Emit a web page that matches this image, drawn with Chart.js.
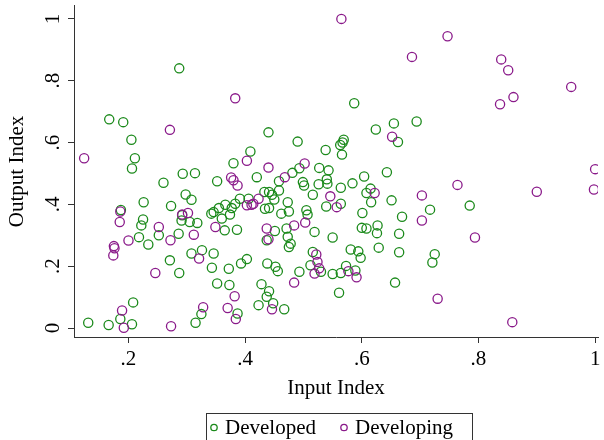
<!DOCTYPE html>
<html>
<head>
<meta charset="utf-8">
<script src="https://cdn.jsdelivr.net/npm/chart.js@4"></script>
<style>
    html, body { margin: 0; padding: 0; background: #fff; }
    #wrap { width: 604px; height: 440px; }
</style>
</head>
<body>
<div id="wrap"><canvas id="chart"></canvas></div>
<script>
// values
const seriesNames = ["Developed", "Developing"];

const developedX = [
    0.287, 0.167, 0.191, 0.205, 0.211, 0.206, 0.293, 0.314,
    0.440, 0.490, 0.409, 0.538, 0.380, 0.493, 0.481, 0.527, 0.543, 0.420,
    0.587, 0.655, 0.694, 0.624, 0.662, 0.569, 0.567, 0.563, 0.566, 0.604, 0.643,
    0.785, 0.717, 0.584, 0.564, 0.540, 0.541, 0.615, 0.608, 0.616, 0.651, 0.564,
    0.539, 0.601, 0.669, 0.600, 0.608, 0.627, 0.626, 0.664, 0.550, 0.629, 0.664,
    0.581, 0.594, 0.598, 0.725, 0.721, 0.573, 0.589, 0.550, 0.564, 0.657, 0.561,
    0.260, 0.298, 0.308, 0.226, 0.273, 0.187, 0.225, 0.222, 0.252, 0.292, 0.291,
    0.305, 0.318, 0.286, 0.218, 0.234, 0.326, 0.308, 0.271, 0.287, 0.208, 0.325,
    0.186, 0.131, 0.166, 0.206, 0.315,
    0.352, 0.458, 0.499, 0.501, 0.526, 0.433, 0.441, 0.446, 0.458, 0.450, 0.434,
    0.441, 0.473, 0.475, 0.505, 0.507, 0.516, 0.391, 0.406, 0.383, 0.377, 0.374,
    0.366, 0.355, 0.346, 0.342, 0.360, 0.365, 0.386, 0.451, 0.437, 0.462, 0.471,
    0.473, 0.478, 0.475, 0.519, 0.346, 0.343, 0.372, 0.393, 0.403, 0.438, 0.452,
    0.456, 0.493, 0.516, 0.512, 0.530, 0.352, 0.373, 0.428, 0.441, 0.437, 0.423,
    0.467, 0.448, 0.387
];
const developedY = [
    0.840, 0.675, 0.666, 0.609, 0.549, 0.516, 0.499, 0.501,
    0.633, 0.603, 0.571, 0.576, 0.533, 0.517, 0.502, 0.518, 0.510, 0.488,
    0.727, 0.662, 0.668, 0.642, 0.602, 0.609, 0.600, 0.592, 0.561, 0.490, 0.504,
    0.396, 0.383, 0.468, 0.454, 0.481, 0.467, 0.451, 0.437, 0.407, 0.413, 0.402,
    0.393, 0.372, 0.360, 0.324, 0.322, 0.332, 0.307, 0.305, 0.293, 0.260, 0.245,
    0.254, 0.248, 0.227, 0.239, 0.212, 0.201, 0.186, 0.175, 0.178, 0.147, 0.114,
    0.470, 0.432, 0.415, 0.407, 0.395, 0.382, 0.351, 0.332, 0.300, 0.365, 0.348,
    0.343, 0.340, 0.305, 0.294, 0.270, 0.252, 0.241, 0.219, 0.178, 0.083, 0.045,
    0.029, 0.017, 0.010, 0.012, 0.017,
    0.475, 0.475, 0.472, 0.461, 0.465, 0.440, 0.440, 0.431, 0.445, 0.416, 0.386,
    0.388, 0.407, 0.377, 0.381, 0.367, 0.431, 0.418, 0.418, 0.402, 0.388, 0.367,
    0.399, 0.388, 0.375, 0.370, 0.354, 0.316, 0.318, 0.314, 0.284, 0.370, 0.322,
    0.295, 0.273, 0.262, 0.311, 0.241, 0.195, 0.192, 0.209, 0.223, 0.209, 0.198,
    0.184, 0.182, 0.246, 0.203, 0.182, 0.144, 0.139, 0.142, 0.119, 0.101, 0.074,
    0.061, 0.080, 0.047
];

const developingX = [
    0.565, 0.383, 0.271, 0.124, 0.403, 0.440, 0.502, 0.376, 0.380, 0.387, 0.468,
    0.747, 0.686, 0.652, 0.839, 0.851, 0.959, 0.860, 0.837, 1.000, 0.764, 0.900,
    0.998, 0.794, 0.858, 0.703, 0.703, 0.546, 0.622, 0.557, 0.577, 0.591, 0.730,
    0.186, 0.185, 0.252, 0.292, 0.302, 0.312, 0.272, 0.200, 0.175, 0.176, 0.174,
    0.321, 0.246, 0.189, 0.328, 0.192, 0.273, 0.423, 0.414, 0.403, 0.411, 0.349,
    0.437, 0.440, 0.484, 0.503, 0.522, 0.524, 0.527, 0.519, 0.484, 0.446, 0.382,
    0.370, 0.384
];
const developingY = [
    1.000, 0.743, 0.641, 0.549, 0.541, 0.519, 0.532, 0.487, 0.478, 0.461, 0.488,
    0.944, 0.877, 0.619, 0.869, 0.834, 0.780, 0.747, 0.724, 0.514, 0.463, 0.441,
    0.448, 0.293, 0.019, 0.429, 0.348, 0.426, 0.437, 0.391, 0.184, 0.164, 0.095,
    0.377, 0.343, 0.327, 0.367, 0.372, 0.302, 0.284, 0.283, 0.265, 0.258, 0.235,
    0.225, 0.178, 0.057, 0.067, 0.001, 0.006, 0.418, 0.402, 0.397, 0.399, 0.327,
    0.322, 0.287, 0.332, 0.341, 0.238, 0.214, 0.193, 0.176, 0.147, 0.061, 0.103,
    0.065, 0.029
];

const xTicks = [0.2, 0.4, 0.6, 0.8, 1];
const xTickLabels = [".2", ".4", ".6", ".8", "1"];
const yTicks = [0, 0.2, 0.4, 0.6, 0.8, 1];
const yTickLabels = ["0", ".2", ".4", ".6", ".8", "1"];

const green = "#1b8a1b";
const purple = "#8a1a8a";
const axisColor = "#333";
const serif = "\"Liberation Serif\", \"Times New Roman\", serif";

const toPoints = (xs, ys) => xs.map((x, i) => ({ x, y: ys[i] }));

// y tick labels are rotated in the original, plus the boxed legend at the bottom
const extras = {
    id: "extras",
    afterDraw(chart) {
        const ctx = chart.ctx;
        const yScale = chart.scales.y;
        ctx.save();
        ctx.font = "21px " + serif;
        ctx.fillStyle = "#000";
        ctx.textAlign = "center";
        ctx.textBaseline = "middle";
        yTicks.forEach((v, i) => {
            ctx.save();
            ctx.translate(53, yScale.getPixelForValue(v));
            ctx.rotate(-Math.PI / 2);
            ctx.fillText(yTickLabels[i], 0, 0);
            ctx.restore();
        });

        // legend
        ctx.strokeStyle = axisColor;
        ctx.lineWidth = 1;
        ctx.strokeRect(206.5, 413.5, 266, 40);
        const items = [
            { x: 214, color: chart.data.datasets[0].borderColor, label: chart.data.datasets[0].label },
            { x: 344, color: chart.data.datasets[1].borderColor, label: chart.data.datasets[1].label }
        ];
        ctx.textAlign = "left";
        ctx.textBaseline = "alphabetic";
        items.forEach((it) => {
            ctx.beginPath();
            ctx.strokeStyle = it.color;
            ctx.lineWidth = 1.3;
            ctx.arc(it.x, 427.5, 3.2, 0, Math.PI * 2);
            ctx.stroke();
            ctx.fillStyle = "#000";
            ctx.fillText(it.label, it.x + 11, 434);
        });
        ctx.restore();
    }
};

new Chart(document.getElementById("chart"), {
    type: "scatter",
    data: {
        datasets: [
            {
                label: seriesNames[0],
                data: toPoints(developedX, developedY),
                borderColor: green,
                backgroundColor: "rgba(0,0,0,0)",
                pointRadius: 4.6,
                pointHoverRadius: 4.6,
                borderWidth: 1.3,
                order: 1
            },
            {
                label: seriesNames[1],
                data: toPoints(developingX, developingY),
                borderColor: purple,
                backgroundColor: "rgba(0,0,0,0)",
                pointRadius: 4.6,
                pointHoverRadius: 4.6,
                borderWidth: 1.3,
                order: 0
            }
        ]
    },
    options: {
        responsive: true,
        maintainAspectRatio: false,
        animation: false,
        layout: { padding: { top: 5, right: 1, left: 0, bottom: 0 } },
        plugins: {
            legend: { display: false },
            tooltip: { enabled: false }
        },
        scales: {
            x: {
                type: "linear",
                min: 0.1066,
                max: 1.0051,
                afterBuildTicks: (s) => { s.ticks = xTicks.map((v) => ({ value: v })); },
                afterFit: (s) => { s.height = 103; s.paddingLeft = 0; s.paddingRight = 0; },
                ticks: {
                    autoSkip: false,
                    maxRotation: 0,
                    padding: 4,
                    color: "#000",
                    font: { family: serif, size: 21 },
                    callback: (v, i) => xTickLabels[i]
                },
                grid: { drawOnChartArea: false, drawTicks: true, tickLength: 6, color: axisColor },
                border: { display: true, color: axisColor, width: 1 },
                title: {
                    display: true,
                    text: "Input Index",
                    color: "#000",
                    font: { family: serif, size: 21 },
                    padding: { top: 0, bottom: 39 }
                }
            },
            y: {
                type: "linear",
                min: -0.029,
                max: 1.042,
                afterBuildTicks: (s) => { s.ticks = yTicks.map((v) => ({ value: v })); },
                afterFit: (s) => { s.width = 74; },
                ticks: { display: false },
                grid: { drawOnChartArea: false, drawTicks: true, tickLength: 6, color: axisColor },
                border: { display: true, color: axisColor, width: 1 },
                title: {
                    display: true,
                    text: "Output Index",
                    color: "#000",
                    font: { family: serif, size: 21 },
                    padding: { top: 5, bottom: 0 }
                }
            }
        }
    },
    plugins: [extras]
});
</script>
</body>
</html>
